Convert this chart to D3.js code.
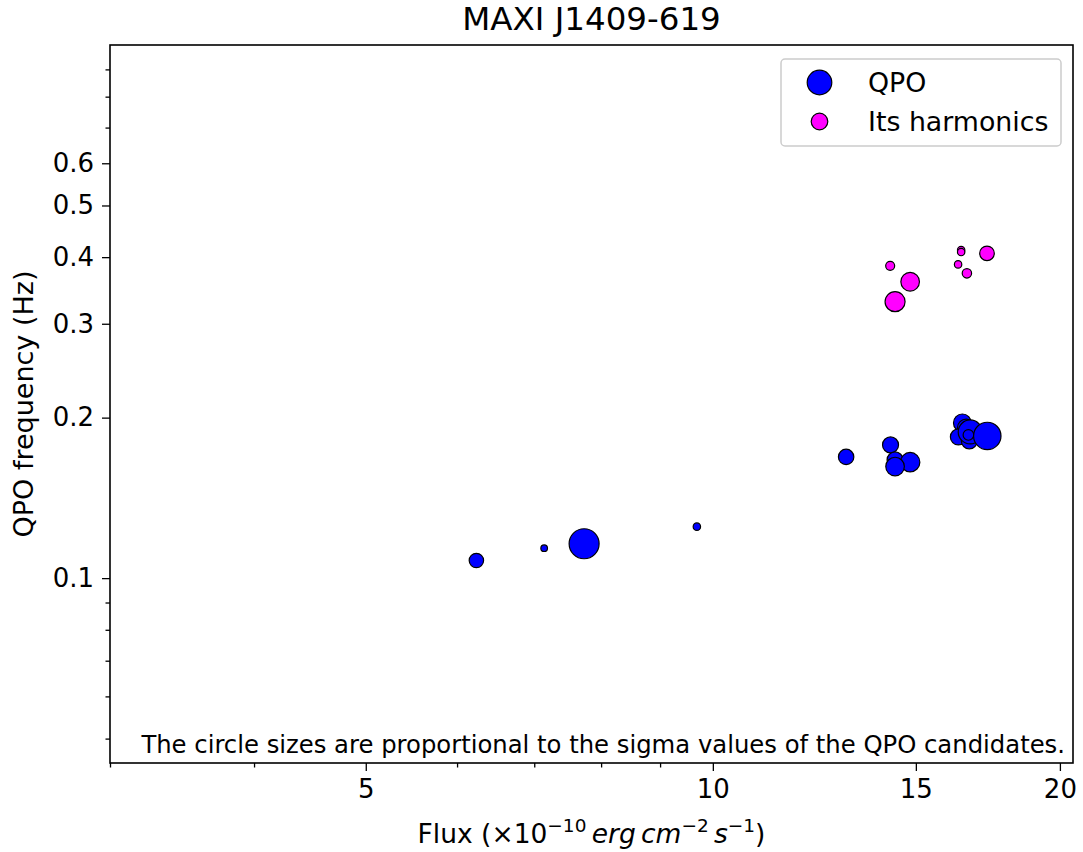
<!DOCTYPE html>
<html>
<head>
<meta charset="utf-8">
<script src="https://cdn.jsdelivr.net/npm/d3@7/dist/d3.min.js"></script>
<style>
  html, body { margin: 0; padding: 0; background: #fff; }
  svg { display: block; font-family: "DejaVu Sans", sans-serif; }
</style>
</head>
<body>
<svg id="chart" width="1083" height="852"></svg>
<script>
// ---- data ----
const qpoFlux  = [6.236, 7.140, 7.733, 9.686, 13.05, 14.26, 14.39, 14.83, 14.39, 16.46, 16.59, 16.33, 16.69, 16.72, 16.66, 17.30];
const qpoFreq  = [0.1079, 0.1138, 0.1160, 0.1249, 0.1688, 0.1778, 0.1666, 0.1650, 0.1619, 0.1955, 0.1913, 0.1840, 0.1809, 0.1880, 0.1856, 0.1848];
const qpoSigma = [2.56, 0.54, 11.1, 0.68, 2.93, 3.16, 3.16, 4.65, 4.27, 3.9, 3.9, 3.16, 3.16, 7.1, 1.39, 9.27];

const harFlux  = [14.25, 14.83, 14.39, 16.42, 16.42, 16.32, 16.61, 17.29];
const harFreq  = [0.3853, 0.3597, 0.3300, 0.4124, 0.4089, 0.3877, 0.3730, 0.4066];
const harSigma = [1.0, 4.27, 4.94, 0.68, 0.68, 0.68, 1.09, 2.63];

const xTicks = [5, 10, 15, 20];
const xMinor = [3, 4, 6, 7, 8, 9];
const yTicks = [0.1, 0.2, 0.3, 0.4, 0.5, 0.6];
const yMinor = [0.05, 0.06, 0.07, 0.08, 0.09, 0.7, 0.8, 0.9];

const titleText = "MAXI J1409-619";
const legendLabels = ["QPO", "Its harmonics"];
const noteText = "The circle sizes are proportional to the sigma values of the QPO candidates.";

// ---- layout ----
const svg = d3.select("#chart");
const L = 110, R = 1073, T = 45, B = 763;
const x = d3.scaleLog().domain([3.0, 20.53]).range([L, R]);
const y = d3.scaleLog().domain([0.045, 1.0]).range([B, T]);
const rScale = d3.scaleSqrt().domain([0, 1]).range([0, 4.5]);

// points
const qpo = qpoFlux.map((f, i) => ({f, q: qpoFreq[i], s: qpoSigma[i]}));
const har = harFlux.map((f, i) => ({f, q: harFreq[i], s: harSigma[i]}));

const gPts = svg.append("g");
gPts.selectAll("circle.qpo").data(qpo).enter().append("circle")
  .attr("class", "qpo")
  .attr("cx", d => x(d.f)).attr("cy", d => y(d.q)).attr("r", d => rScale(d.s))
  .attr("fill", "#0000ff").attr("stroke", "#000").attr("stroke-width", 1.2);
gPts.selectAll("circle.har").data(har).enter().append("circle")
  .attr("class", "har")
  .attr("cx", d => x(d.f)).attr("cy", d => y(d.q)).attr("r", d => rScale(d.s))
  .attr("fill", "#ff00ff").attr("stroke", "#000").attr("stroke-width", 1.2);

// axes
const fmt = d => String(d);
const xAxis = svg.append("g").attr("transform", `translate(0,${B})`)
  .call(d3.axisBottom(x).tickValues(xTicks).tickFormat(fmt).tickSize(8).tickPadding(9));
const xAxisMinor = svg.append("g").attr("transform", `translate(0,${B})`)
  .call(d3.axisBottom(x).tickValues(xMinor).tickFormat("").tickSize(4.5));
const yAxis = svg.append("g").attr("transform", `translate(${L},0)`)
  .call(d3.axisLeft(y).tickValues(yTicks).tickFormat(fmt).tickSize(8).tickPadding(8));
const yAxisMinor = svg.append("g").attr("transform", `translate(${L},0)`)
  .call(d3.axisLeft(y).tickValues(yMinor).tickFormat("").tickSize(4.5));
[xAxis, xAxisMinor, yAxis, yAxisMinor].forEach(g => {
  g.select(".domain").remove();
  g.selectAll(".tick line").attr("stroke", "#000").attr("stroke-width", 1.3);
  g.selectAll(".tick text").attr("fill", "#000").attr("font-size", 26)
    .attr("font-family", "DejaVu Sans, sans-serif");
});

// frame
svg.append("rect").attr("x", L).attr("y", T).attr("width", R - L).attr("height", B - T)
  .attr("fill", "none").attr("stroke", "#000").attr("stroke-width", 1.6);

// title
svg.append("text").attr("x", (L + R) / 2).attr("y", 30).attr("text-anchor", "middle")
  .attr("font-size", 32.5).text(titleText);

// y label
svg.append("text").attr("transform", `translate(32.5,${(T + B) / 2}) rotate(-90)`)
  .attr("text-anchor", "middle").attr("font-size", 27).text("QPO frequency (Hz)");

// x label with math
const xl = svg.append("text").attr("x", (L + R) / 2).attr("y", 843).attr("text-anchor", "middle")
  .attr("font-size", 26.5);
xl.append("tspan").text("Flux (×10");
xl.append("tspan").attr("font-size", 18.5).attr("dy", -11).text("−10");
xl.append("tspan").attr("dy", 11).attr("font-style", "italic").text("\u2009erg");
xl.append("tspan").attr("font-style", "italic").text("\u2009cm");
xl.append("tspan").attr("font-size", 18.5).attr("dy", -11).text("−2");
xl.append("tspan").attr("dy", 11).attr("font-style", "italic").text("\u2009s");
xl.append("tspan").attr("font-size", 18.5).attr("dy", -11).text("−1");
xl.append("tspan").attr("dy", 11).text(")");

// note
svg.append("text").attr("x", 1065).attr("y", 753).attr("text-anchor", "end")
  .attr("font-size", 24.3).text(noteText);

// legend
const lg = svg.append("g");
lg.append("rect").attr("x", 781).attr("y", 59).attr("width", 280).attr("height", 87)
  .attr("rx", 4).attr("fill", "#fff").attr("fill-opacity", 0.8)
  .attr("stroke", "#cccccc").attr("stroke-width", 1.5);
const legendItems = [
  {label: legendLabels[0], color: "#0000ff", r: 12.3, cy: 82.5},
  {label: legendLabels[1], color: "#ff00ff", r: 8.3, cy: 121.5}
];
legendItems.forEach(it => {
  lg.append("circle").attr("cx", 819.5).attr("cy", it.cy).attr("r", it.r)
    .attr("fill", it.color).attr("stroke", "#000").attr("stroke-width", 1.2);
  lg.append("text").attr("x", 868).attr("y", it.cy + 9).attr("font-size", 26.8).text(it.label);
});
</script>
</body>
</html>
